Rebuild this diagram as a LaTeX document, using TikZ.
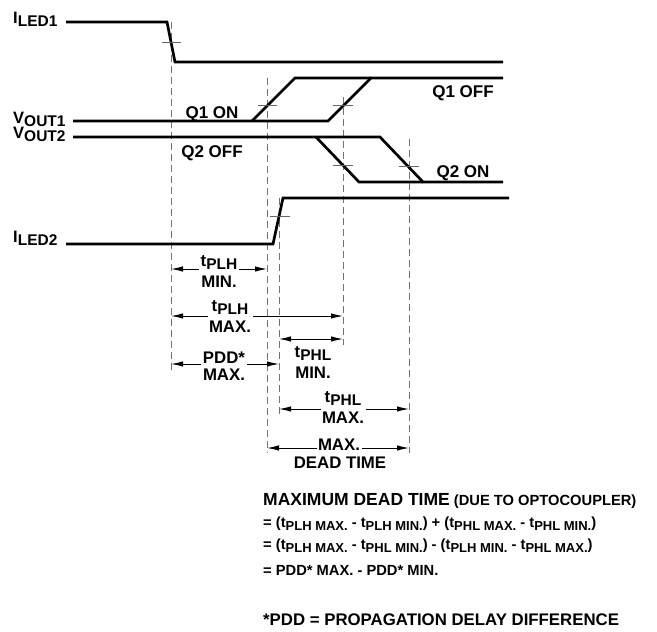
\documentclass[tikz,border=0pt]{standalone}
\usepackage{fontspec}
\setmainfont{Liberation Sans}
\usetikzlibrary{arrows.meta,positioning}

\newcommand{\lowsub}[1]{\raisebox{-3.5pt}{\fontsize{15.5}{16}\selectfont #1}}
\newcommand{\eqsub}[1]{\raisebox{-3pt}{\fontsize{13}{14}\selectfont #1}}

\tikzset{
  wave/.style={line width=2.7pt},
  guide/.style={black!55, line width=0.9pt, dash pattern=on 7pt off 4pt},
  crossmark/.style={black!60, line width=0.8pt},
  dim/.style={line width=1pt, {Latex[length=12pt,width=5.5pt]}-{Latex[length=12pt,width=5.5pt]}},
  sig/.style={font=\fontsize{16.5}{17}\selectfont\bfseries, inner sep=0pt, anchor=base west},
  qtext/.style={font=\fontsize{17}{18}\selectfont\bfseries, inner sep=0pt, anchor=base},
  lbl/.style={font=\fontsize{16.8}{17}\selectfont\bfseries, align=center, fill=white, inner sep=1.5pt, anchor=base},
  eqline/.style={font=\fontsize{14.7}{15}\selectfont\bfseries, inner sep=0pt, anchor=base west},
}

\begin{document}
\begin{tikzpicture}[x=1pt,y=-1pt]
\useasboundingbox (0,0) rectangle (657,632);

% guide lines
\draw[guide] (171,22) -- (171,370);
\draw[guide] (267,78) -- (267,453);
\draw[guide] (279,198) -- (279,415);
\draw[guide] (343,97) -- (343,345);
\draw[guide] (409,139) -- (409,453);

% waveforms
\draw[wave] (66,22) -- (167,22) -- (175,62) -- (503,62);
\draw[wave] (73,121) -- (328,121) -- (371,78) -- (503,78);
\draw[wave] (252,121) -- (295,78) -- (371,78);
\draw[wave] (73,137) -- (380,137) -- (423,182) -- (503,182);
\draw[wave] (316,137) -- (359,182) -- (423,182);
\draw[wave] (66,244) -- (273,244) -- (283,198) -- (509,198);

% crossing marks
\draw[crossmark] (162,42) -- (181,42);
\draw[crossmark] (258,105) -- (277,105);
\draw[crossmark] (333,105) -- (353,105);
\draw[crossmark] (333,165) -- (353,165);
\draw[crossmark] (399,166) -- (419,166);
\draw[crossmark] (270,216) -- (290,216);

% signal names
\node[sig] (iled1) at (13,23) {I\lowsub{LED1}};
\node[sig] (vout1) at (13,123) {V\lowsub{OUT1}};
\node[sig] (vout2) at (13,138) {V\lowsub{OUT2}};
\node[sig] (iled2) at (13,242) {I\lowsub{LED2}};

\node[qtext] (q1on) at (212,118) {Q1 ON};
\node[qtext] (q2off) at (212,157) {Q2 OFF};
\node[qtext] (q1off) at (463,97) {Q1 OFF};
\node[qtext] (q2on) at (463,177) {Q2 ON};

% delays
\coordinate (a1l) at (171,269);
\coordinate (a1r) at (267,269);
\coordinate (a2l) at (171,316);
\coordinate (a2r) at (343,316);
\coordinate (a3l) at (279,339);
\coordinate (a3r) at (343,339);
\coordinate (a4l) at (171,364);
\coordinate (a4r) at (279,364);
\coordinate (a5l) at (279,409);
\coordinate (a5r) at (409,409);
\coordinate (a6l) at (267,448);
\coordinate (a6r) at (409,448);

\draw[dim] (a1l) -- (a1r);
\draw[dim] (a2l) -- (a2r);
\draw[dim] (a3l) -- (a3r);
\draw[dim] (a4l) -- (a4r);
\draw[dim] (a5l) -- (a5r);
\draw[dim] (a6l) -- (a6r);

\node[lbl] (tplhmin) at (219,287) {t\lowsub{PLH}\\[4pt]MIN.};
\node[lbl] (tplhmax) at (230,332) {t\lowsub{PLH}\\[4pt]MAX.};
\node[lbl] (tphlmin) at (313,378) {t\lowsub{PHL}\\[4pt]MIN.};
\node[lbl] (pddmax) at (224,380) {PDD*\\MAX.};
\node[lbl] (tphlmax) at (343,423) {t\lowsub{PHL}\\[4pt]MAX.};
\node[lbl] (deadmax) at (339,450) {MAX.};
\node[lbl] (deadtime) at (340,468) {DEAD TIME};

% formula
\node[eqline] (head) at (263,505) {{\fontsize{17.5}{18}\selectfont MAXIMUM DEAD TIME} (DUE TO OPTOCOUPLER)};
\node[eqline] (eq1) at (263,527) {= (t\eqsub{PLH MAX.} - t\eqsub{PLH MIN.}) + (t\eqsub{PHL MAX.} - t\eqsub{PHL MIN.})};
\node[eqline] (eq2) at (263,549) {= (t\eqsub{PLH MAX.} - t\eqsub{PHL MIN.}) - (t\eqsub{PLH MIN.} - t\eqsub{PHL MAX.})};
\node[eqline] (eq3) at (263,575) {= PDD* MAX. - PDD* MIN.};
\node[eqline, font=\fontsize{16.8}{17}\selectfont\bfseries] (note) at (263,625) {*PDD = PROPAGATION DELAY DIFFERENCE};
\end{tikzpicture}
\end{document}
